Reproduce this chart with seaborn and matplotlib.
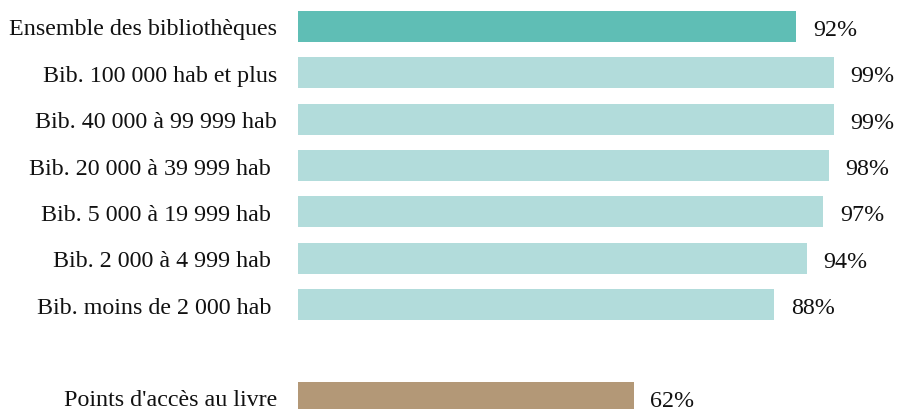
import matplotlib
matplotlib.use("Agg")
import matplotlib.pyplot as plt
import seaborn as sns
import pandas as pd

categories = [
    "Ensemble des bibliothèques",
    "Bib. 100 000 hab et plus",
    "Bib. 40 000 à 99 999 hab",
    "Bib. 20 000 à 39 999 hab ",
    "Bib. 5 000 à 19 999 hab ",
    "Bib. 2 000 à 4 999 hab ",
    "Bib. moins de 2 000 hab ",
    "Points d'accès au livre",
]
values = [92, 99, 99, 98, 97, 94, 88, 62]
groups = ["ensemble", "bib", "bib", "bib", "bib", "bib", "bib", "points"]
row_pos = [0, 1, 2, 3, 4, 5, 6, 8]
palette = {"ensemble": "#5FBEB5", "bib": "#B2DCDB", "points": "#B39877"}

sns.set_theme(style="white")
plt.rcParams["font.family"] = ["Liberation Serif", "DejaVu Serif"]

df = pd.DataFrame({"cat": categories, "val": values, "grp": groups, "pos": row_pos})

fig = plt.figure(figsize=(8.97, 4.10), dpi=100)
ax = fig.add_axes([298 / 897, 0, 1 - 298 / 897 - 0.01, 1])

sns.barplot(data=df, x="val", y="pos", hue="grp", palette=palette, orient="h",
            native_scale=True, width=0.67, dodge=False, legend=False, ax=ax,
            linewidth=0, saturation=1)

ax.set_xlim(0, 590 / 5.414)
ax.set_ylim(8.25, -0.593)
ax.set_yticks(row_pos)
ax.set_yticklabels(categories, fontsize=17.3, color="#111111")
ax.tick_params(axis="y", length=0, pad=15)
ax.set_xticks([])
ax.set_xlabel("")
ax.set_ylabel("")
for s in ax.spines.values():
    s.set_visible(False)

for p, v in zip(row_pos, values):
    ax.annotate(f"{v}%", xy=(v, p), xytext=(12, -2), textcoords="offset points",
                ha="left", va="center", fontsize=17.3, color="#111111")

fig.savefig("out.png", dpi=100)
